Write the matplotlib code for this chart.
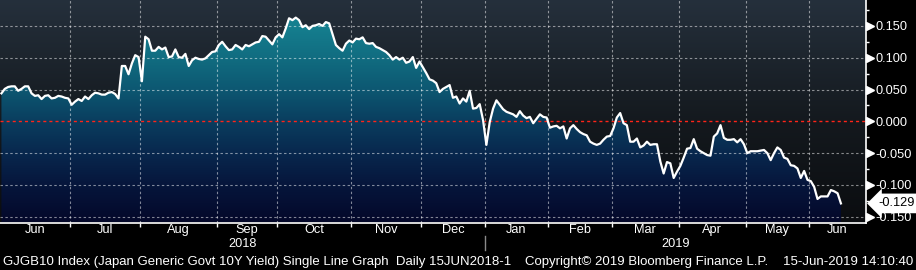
import numpy as np
import pandas as pd
import matplotlib
matplotlib.use("Agg")
import matplotlib.pyplot as plt
import matplotlib.transforms as mtransforms
from matplotlib.lines import Line2D

plt.rcParams['font.family'] = ['Liberation Sans', 'DejaVu Sans']

# ---------------- data ----------------
start_date = "2018-06-01"
end_date = "2019-06-14"
jp_holidays = ["2018-07-16", "2018-09-17", "2018-09-24", "2018-10-08", "2018-11-23",
               "2018-12-24", "2018-12-31", "2019-01-01", "2019-01-02", "2019-01-03",
               "2019-01-14", "2019-02-11", "2019-03-21", "2019-04-29", "2019-04-30",
               "2019-05-01", "2019-05-02", "2019-05-03", "2019-05-06"]

yields = [
    0.044, 0.051, 0.054, 0.055, 0.055, 0.048, 0.051, 0.055, 0.055, 0.044,
    0.040, 0.041, 0.035, 0.040, 0.041, 0.036, 0.037, 0.040, 0.039, 0.037,
    0.036, 0.026, 0.031, 0.035, 0.032, 0.039, 0.035, 0.041, 0.045, 0.044,
    0.042, 0.042, 0.045, 0.046, 0.043, 0.036, 0.087, 0.087, 0.074, 0.091,
    0.104, 0.101, 0.063, 0.133, 0.129, 0.111, 0.111, 0.117, 0.113, 0.116,
    0.101, 0.102, 0.113, 0.101, 0.100, 0.106, 0.087, 0.096, 0.100, 0.098,
    0.097, 0.099, 0.104, 0.109, 0.110, 0.120, 0.125, 0.118, 0.112, 0.113,
    0.120, 0.117, 0.113, 0.120, 0.118, 0.121, 0.124, 0.125, 0.134, 0.133,
    0.127, 0.121, 0.132, 0.137, 0.132, 0.146, 0.162, 0.159, 0.163, 0.159,
    0.148, 0.151, 0.145, 0.150, 0.151, 0.153, 0.150, 0.156, 0.154, 0.137,
    0.120, 0.115, 0.111, 0.122, 0.127, 0.124, 0.130, 0.129, 0.132, 0.123,
    0.122, 0.123, 0.117, 0.115, 0.112, 0.109, 0.104, 0.097, 0.101, 0.097,
    0.100, 0.092, 0.094, 0.101, 0.084, 0.094, 0.085, 0.076, 0.066, 0.064,
    0.060, 0.046, 0.051, 0.054, 0.057, 0.037, 0.039, 0.028, 0.036, 0.031,
    0.048, 0.020, 0.021, 0.027, 0.002, -0.037, -0.001, 0.020, 0.033, 0.026,
    0.019, 0.015, 0.013, 0.011, 0.007, 0.016, 0.009, 0.005, 0.007, -0.003,
    0.004, 0.011, 0.007, 0.006, -0.010, -0.008, -0.007, -0.011, -0.008, -0.027,
    -0.011, -0.006, -0.012, -0.017, -0.020, -0.022, -0.032, -0.035, -0.037, -0.035,
    -0.029, -0.024, -0.023, -0.011, 0.006, 0.013, -0.003, -0.006, -0.032, -0.032,
    -0.027, -0.041, -0.038, -0.032, -0.037, -0.036, -0.036, -0.063, -0.082, -0.064,
    -0.066, -0.089, -0.079, -0.070, -0.057, -0.043, -0.042, -0.028, -0.043, -0.047,
    -0.050, -0.053, -0.054, -0.024, -0.019, -0.006, -0.026, -0.029, -0.029, -0.028,
    -0.033, -0.028, -0.036, -0.050, -0.047, -0.047, -0.047, -0.046, -0.045, -0.050,
    -0.061, -0.050, -0.041, -0.045, -0.057, -0.059, -0.069, -0.070, -0.074, -0.089,
    -0.078, -0.092, -0.094, -0.103, -0.122, -0.118, -0.118, -0.118, -0.108, -0.110,
    -0.113, -0.129,
]
last_value_label = "-0.129"
ytick_values = [0.150, 0.100, 0.050, 0.000, -0.050, -0.100, -0.150]
ytick_labels = ["0.150", "0.100", "0.050", "0.000", "-0.050", "-0.100", "-0.150"]
yminor_values = [0.175, 0.125, 0.075, 0.025, -0.025, -0.075, -0.125]

footer_left = "GJGB10 Index (Japan Generic Govt 10Y Yield) Single Line Graph  Daily 15JUN2018-1"
footer_mid = "Copyright\u00a9 2019 Bloomberg Finance L.P."
footer_right = "15-Jun-2019 14:10:40"

# ---------------- build ----------------
dates = pd.bdate_range(start_date, end_date, freq="C", holidays=jp_holidays)
n = min(len(dates), len(yields))
dates = dates[:n]
x = np.arange(n)
y = np.array(yields[:n])

W, H = 916, 270
fig = plt.figure(figsize=(W / 100, H / 100), dpi=100, facecolor="black")
ax_bottom_px = 222.5
ax = fig.add_axes([0, (H - ax_bottom_px) / H, 866 / W, ax_bottom_px / H])
ax.set_facecolor("black")

X0, X1 = -0.43, 258.5
Y0, Y1 = -0.159, 0.1907
ax.set_xlim(X0, X1)
ax.set_ylim(Y0, Y1)

# background gradient
rows = 300
t = np.linspace(0, 1, rows)  # 0 top -> 1 bottom
bg_top = np.array([37, 48, 60]) / 255
bg_mid = np.array([20, 25, 30]) / 255
bg_bot = np.array([11, 13, 16]) / 255
bg = np.empty((rows, 1, 3))
for c in range(3):
    bg[:, 0, c] = np.interp(t, [0, 0.55, 1], [bg_top[c], bg_mid[c], bg_bot[c]])
ax.imshow(bg, extent=[X0, X1, Y0, Y1], aspect="auto", origin="upper",
          interpolation="bilinear", zorder=0)

# fill gradient (by value)
vals = np.linspace(Y1, Y0, rows)
anch_v = [0.19, 0.15, 0.10, 0.05, 0.0, -0.05, -0.10, -0.159]
anch_c = np.array([[24, 136, 150], [21, 127, 143], [17, 109, 129], [13, 88, 114],
                   [10, 62, 95], [8, 40, 78], [6, 22, 60], [4, 8, 42]]) / 255
fg = np.empty((rows, 1, 3))
for c in range(3):
    fg[:, 0, c] = np.interp(vals, anch_v[::-1], anch_c[::-1, c])
poly = ax.fill_between(x, y, Y0, facecolor="none", edgecolor="none", zorder=1)
im = ax.imshow(fg, extent=[X0, X1, Y0, Y1], aspect="auto", origin="upper",
               interpolation="bilinear", zorder=1)
im.set_clip_path(poly.get_paths()[0], transform=ax.transData)

# month boundaries
month_keys = dates.year * 100 + dates.month
starts = [0] + [i for i in range(1, n) if month_keys[i] != month_keys[i - 1]]
bounds = [s - 0.5 for s in starts[1:]]

dash = (0, (2.2, 2.2))
for yt in ytick_values:
    if yt == 0:
        ax.axhline(yt, color="#ff2418", lw=1.0, ls=dash, zorder=3)
    else:
        ax.axhline(yt, color="white", alpha=0.5, lw=0.8, ls=dash, zorder=3)
for b in bounds:
    ax.axvline(b, color="white", alpha=0.5, lw=0.8, ls=dash, zorder=3)

ax.plot(x, y, color="white", lw=1.6, zorder=5, solid_joinstyle="round")

# spines
for s in ["left", "top"]:
    ax.spines[s].set_visible(False)
for s in ["bottom", "right"]:
    ax.spines[s].set_color("white")
    ax.spines[s].set_linewidth(1.2)
    ax.spines[s].set_zorder(6)

# y axis on right
ax.yaxis.tick_right()
ax.set_yticks(ytick_values)
ax.set_yticklabels(ytick_labels)
ax.set_yticks(yminor_values, minor=True)
ax.tick_params(axis="y", which="major", length=0, pad=6.5, labelcolor="white",
               labelsize=9.2)
ax.tick_params(axis="y", which="minor", length=2.5, width=1, color="white",
               direction="out")
tr_y = mtransforms.blended_transform_factory(ax.transAxes, ax.transData)
ax.plot([1 + 4 / 866] * len(ytick_values), ytick_values, ls="none", marker=">",
        ms=5.5, color="white", mec="white", transform=tr_y, clip_on=False, zorder=7)

# x axis
ax.set_xticks(bounds)
ax.tick_params(axis="x", which="major", length=3, width=1, color="white",
               direction="out", labelbottom=False)
tr_x = mtransforms.blended_transform_factory(ax.transData, ax.transAxes)
edges = [X0] + bounds + [X1]
for k, s in enumerate(starts):
    cx = (edges[k] + edges[k + 1]) / 2
    ax.text(cx, -0.034, dates[s].strftime("%b"), transform=tr_x, ha="center",
            va="center", color="white", fontsize=9.2, clip_on=False)

years = sorted(set(dates.year))
year_edges = [X0]
for yr in years[1:]:
    i0 = int(np.argmax(dates.year == yr))
    year_edges.append(i0 - 0.5)
year_edges.append(X1)
for k, yr in enumerate(years):
    cx = (year_edges[k] + year_edges[k + 1]) / 2
    ax.text(cx, -0.097, str(yr), transform=tr_x, ha="center", va="center",
            color="white", fontsize=9.2, clip_on=False)
for b in year_edges[1:-1]:
    ax.add_line(Line2D([b, b], [-0.062, -0.124], transform=tr_x, color="#8a8a8a",
                       lw=1, clip_on=False))

# last value box
ax.text(1 + 12 / 866, y[-1], last_value_label, transform=tr_y, ha="left",
        va="center", color="black", fontsize=9.2, zorder=8, clip_on=False,
        bbox=dict(boxstyle="larrow,pad=0.3", fc="white", ec="none"))

# footer
fy = (H - 262) / H
fig.text(3 / W, fy, footer_left, color="white", fontsize=9.5, ha="left", va="center")
fig.text(525 / W, fy, footer_mid, color="white", fontsize=9.5, ha="left", va="center")
fig.text(783 / W, fy, footer_right, color="white", fontsize=9.5, ha="left", va="center")

fig.savefig("out.png", dpi=100, facecolor="black")
